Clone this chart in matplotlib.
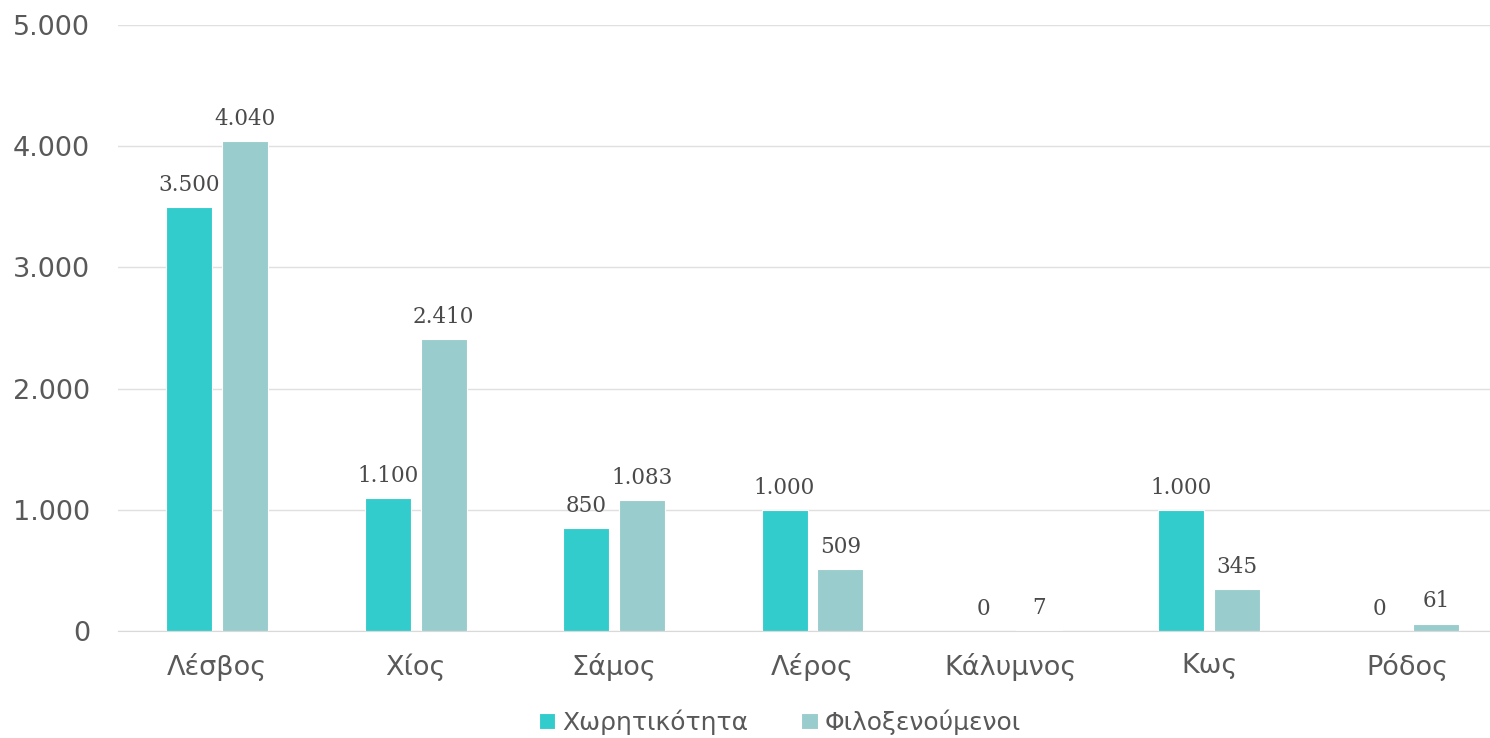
import matplotlib
matplotlib.use("Agg")
import matplotlib.pyplot as plt
import numpy as np
from matplotlib.ticker import FuncFormatter

categories = ["Λέσβος", "Χίος", "Σάμος", "Λέρος", "Κάλυμνος", "Κως", "Ρόδος"]
capacity = [3500, 1100, 850, 1000, 0, 1000, 0]
hosted = [4040, 2410, 1083, 509, 7, 345, 61]
series_names = ["Χωρητικότητα", "Φιλοξενούμενοι"]
colors = ["#33CCCC", "#99CCCC"]

def fmt(v):
    return f"{int(v):,}".replace(",", ".")

W, H = 1490, 738
fig = plt.figure(figsize=(W/100, H/100), dpi=100)
left = 118/W
bottom = (H-631)/H
top = (H-25)/H
width = 1389/W
ax = fig.add_axes([left, bottom, width, top-bottom])

x = np.arange(len(categories))
bw = 0.232
off = 0.141
b1 = ax.bar(x-off, capacity, bw, color=colors[0], edgecolor="white", linewidth=0.8, label=series_names[0], zorder=3)
b2 = ax.bar(x+off, hosted, bw, color=colors[1], edgecolor="white", linewidth=0.8, label=series_names[1], zorder=3)

for bars, vals in ((b1, capacity), (b2, hosted)):
    for r, v in zip(bars, vals):
        ax.annotate(fmt(v), (r.get_x()+r.get_width()/2, v), xytext=(0, 8),
                    textcoords="offset points", ha="center", va="bottom",
                    fontsize=15.5, family="DejaVu Serif", color="#4a4a4a")

ax.set_xlim(-0.5, len(categories)-0.5)
ax.set_ylim(0, 5000)
ax.set_yticks(np.arange(0, 5001, 1000))
ax.yaxis.set_major_formatter(FuncFormatter(lambda v, p: fmt(v)))
ax.set_xticks(x)
ax.set_xticklabels(categories)
ax.tick_params(axis="y", length=0, pad=20, labelsize=19.5, labelcolor="#595959")
ax.tick_params(axis="x", length=0, pad=16, labelsize=19.5, labelcolor="#595959")
ax.grid(axis="y", color="#E0E0E0", linewidth=1, zorder=0)
for s in ["top", "right", "left"]:
    ax.spines[s].set_visible(False)
ax.spines["bottom"].set_color("#D9D9D9")
ax.spines["bottom"].set_zorder(4)

handles, labels = ax.get_legend_handles_labels()
fig.legend(handles, labels, loc="center", bbox_to_anchor=(780/W, (H-722)/H),
           ncol=2, frameon=False, fontsize=18, labelcolor="#595959",
           handlelength=0.65, handleheight=0.65, handletextpad=0.3, columnspacing=2.1)

fig.savefig("out.png", dpi=100)
